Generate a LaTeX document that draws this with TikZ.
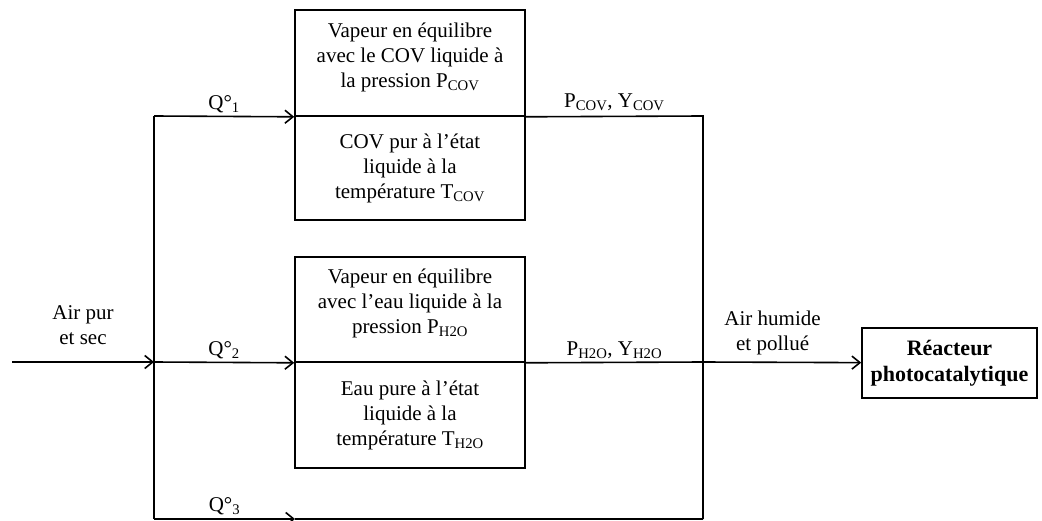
\documentclass[tikz,border=0pt]{standalone}
\usepackage{fontspec}
\setmainfont{Liberation Serif}
\usetikzlibrary{arrows.meta, positioning, calc}

\begin{document}
\begin{tikzpicture}[x=1pt, y=-1pt,
	every node/.style={font=\fontsize{21}{25}\selectfont},
	cell/.style={draw, line width=1.6pt, minimum width=230pt, align=center, inner sep=0pt},
	vapcell/.style={cell, label={[align=center, yshift=6pt]center:#1}},
	flow/.style={line width=1.6pt},
	tip/.style={-{Straight Barb[length=8pt,width=13pt,line width=1.6pt]}},
	lbl/.style={above, inner sep=3pt, align=center}]
	\useasboundingbox (0,0) rectangle (1042,521);
	% saturateurs
	\node[vapcell={Vapeur en équilibre\\avec le COV liquide à\\la pression P\textsubscript{COV}}, minimum height=106pt] (vapcov) at (410,63) {};
	\node[cell, minimum height=104pt] (liqcov) at (410,168) {COV pur à l’état\\liquide à la\\température T\textsubscript{COV}};
	\node[vapcell={Vapeur en équilibre\\avec l’eau liquide à la\\pression P\textsubscript{H2O}}, minimum height=105pt] (vapeau) at (410,309.5) {};
	\node[cell, minimum height=106pt] (liqeau) at (410,415) {Eau pure à l’état\\liquide à la\\température T\textsubscript{H2O}};
	\node[draw, line width=1.6pt, minimum width=175pt, minimum height=70pt, align=center, font=\fontsize{22}{26}\selectfont\bfseries] (reacteur) at (949.5,363) {Réacteur\\photocatalytique};
	% points du circuit
	\coordinate (entree) at (12,362);
	\coordinate (split) at (154,362);
	\coordinate (haut) at (154,116);
	\coordinate (bas) at (154,519);
	\coordinate (byp) at (295,519);
	\coordinate (joinT) at (703,116);
	\coordinate (joinM) at (703,362);
	\coordinate (joinB) at (703,519);
	% lignes
	\draw[flow,tip] (entree) -- node[lbl, inner sep=16pt]{Air pur\\et sec} (split);
	\draw[flow] (haut) -- (bas);
	\draw[flow,tip] (haut) -- node[lbl]{Q°\textsubscript{1}} (vapcov.south west);
	\draw[flow,tip] (split) -- node[lbl]{Q°\textsubscript{2}} (vapeau.south west);
	\draw[flow,tip] (bas) -- node[lbl]{Q°\textsubscript{3}} (byp);
	\draw[flow] (byp) -- (joinB);
	\draw[flow] (vapcov.south east) -- node[lbl, inner sep=5pt]{P\textsubscript{COV}, Y\textsubscript{COV}} (joinT) -- (joinB);
	\draw[flow] (vapeau.south east) -- node[lbl]{P\textsubscript{H2O}, Y\textsubscript{H2O}} (joinM);
	\draw[flow,tip] (joinM) -- node[lbl, pos=0.44, inner sep=7pt]{Air humide\\et pollué} (reacteur);
\end{tikzpicture}
\end{document}
